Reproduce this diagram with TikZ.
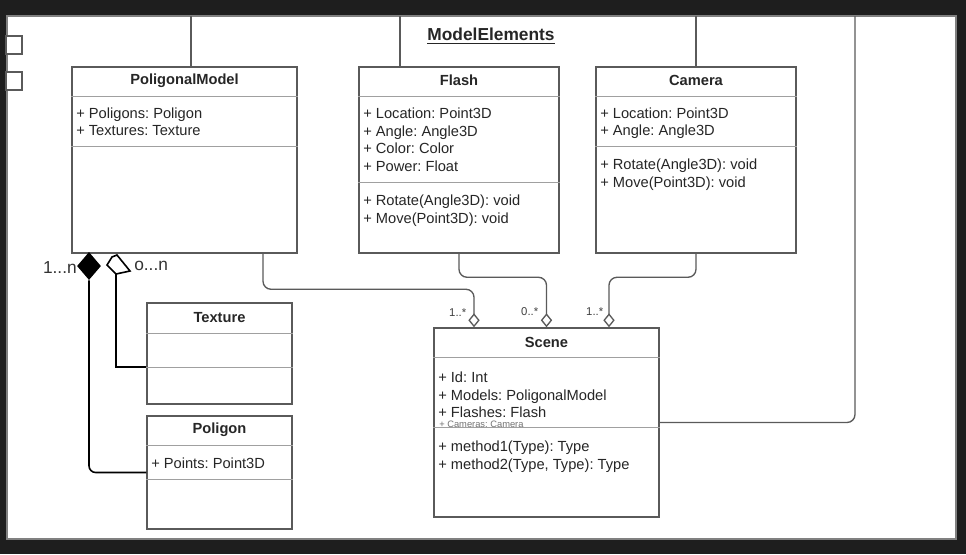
\documentclass[tikz,border=0pt]{standalone}
\usepackage{fontspec}
\setmainfont{Liberation Sans}
\frenchspacing
\usetikzlibrary{positioning,fit,calc,arrows.meta,shapes.geometric}
\definecolor{scrbg}{HTML}{1E1E1E}
\definecolor{boxline}{HTML}{5A5A5A}
\definecolor{divgray}{HTML}{A0A0A0}
\begin{document}
\begin{tikzpicture}[x=0.75pt, y=-0.75pt, >=latex,
    cls/.style={draw=boxline, line width=1.1pt, inner sep=0pt, fill=white},
    hdr/.style={font=\fontsize{11}{13}\selectfont\bfseries, text=black!85, inner sep=0pt},
    attr/.style={font=\fontsize{11}{13.2}\selectfont, text=black!85, align=left, inner sep=0pt, anchor=north west},
    divline/.style={draw=divgray, line width=0.9pt},
    agg/.style={draw=boxline, line width=1pt, rounded corners=6pt, -{Diamond[open,length=10.5pt,width=8.5pt]}},
    mult/.style={font=\fontsize{8.5}{9}\selectfont, text=black!75, inner sep=0pt, anchor=east},
    hand/.style={draw=black, line width=1.2pt},
    handtxt/.style={font=\fontsize{13}{14}\selectfont, text=black!80, inner sep=0pt}]
    \useasboundingbox (0,0) rectangle (966,554);
    \fill[scrbg] (0,0) rectangle (966,554);
    \draw[draw=gray, fill=white, line width=0.8pt] (7,16) rectangle (956,539);
    \draw[boxline, line width=1.4pt, fill=white] (6,36) rectangle (22,54);
    \draw[boxline, line width=1.4pt, fill=white] (6,72) rectangle (22,90);

    % titulo del paquete
    \node[font=\fontsize{13}{15}\selectfont\bfseries, text=black!85, inner sep=0pt] (ttl) at (491,36) {\underline{ModelElements}};

    % clases
    \node[cls, fit={(72,67) (297,253)}] (PM) {};
    \node[cls, fit={(359,67) (559,253)}] (FL) {};
    \node[cls, fit={(596,67) (796,253)}] (CA) {};
    \node[cls, fit={(147,303) (292,404)}] (TX) {};
    \node[cls, fit={(147,416) (292,529)}] (PG) {};
    \node[cls, fit={(434,328) (659,517)}] (SC) {};

    \draw[divline] ($(PM.north west)+(0,30)$) -- ($(PM.north east)+(0,30)$);
    \draw[divline] ($(PM.north west)+(0,80)$) -- ($(PM.north east)+(0,80)$);
    \draw[divline] ($(FL.north west)+(0,30)$) -- ($(FL.north east)+(0,30)$);
    \draw[divline] ($(FL.north west)+(0,116)$) -- ($(FL.north east)+(0,116)$);
    \draw[divline] ($(CA.north west)+(0,30)$) -- ($(CA.north east)+(0,30)$);
    \draw[divline] ($(CA.north west)+(0,80)$) -- ($(CA.north east)+(0,80)$);
    \draw[divline] ($(TX.north west)+(0,31)$) -- ($(TX.north east)+(0,31)$);
    \draw[divline] ($(TX.north west)+(0,65)$) -- ($(TX.north east)+(0,65)$);
    \draw[divline] ($(PG.north west)+(0,30)$) -- ($(PG.north east)+(0,30)$);
    \draw[divline] ($(PG.north west)+(0,64)$) -- ($(PG.north east)+(0,64)$);
    \draw[divline] ($(SC.north west)+(0,30)$) -- ($(SC.north east)+(0,30)$);
    \draw[divline] ($(SC.north west)+(0,100)$) -- ($(SC.north east)+(0,100)$);

    \node[hdr] (pmH) at (184.5,81) {PoligonalModel};
    \node[attr] (pmA) at (76,107.5) {+ Poligons: Poligon\\+ Textures: Texture};
    \node[hdr] (flH) at (459,80) {Flash};
    \node[attr] (flA) at (363,107.5) {+ Location: Point3D\\+ Angle: Angle3D\\+ Color: Color\\+ Power: Float};
    \node[attr] (flM) at (363,194.5) {+ Rotate(Angle3D): void\\+ Move(Point3D): void};
    \node[hdr] (caH) at (696,80) {Camera};
    \node[attr] (caA) at (600,107.5) {+ Location: Point3D\\+ Angle: Angle3D};
    \node[attr] (caM) at (600,158.5) {+ Rotate(Angle3D): void\\+ Move(Point3D): void};
    \node[hdr] (txH) at (219.5,318) {Texture};
    \node[hdr] (pgH) at (219.5,430) {Poligon};
    \node[attr] (pgA) at (151,457.5) {+ Points: Point3D};
    \node[hdr] (scH) at (546.5,342) {Scene};
    \node[attr] (scA) at (438,371.5) {+ Id: Int\\+ Models: PoligonalModel\\+ Flashes: Flash};
    \node[font=\fontsize{7}{8}\selectfont, text=black!55, inner sep=0pt, anchor=west] (scC) at (439,424) {+ Cameras: Camera};
    \node[attr] (scM) at (438,440.5) {+ method1(Type): Type\\+ method2(Type, Type): Type};

    % lineas hacia el borde superior
    \coordinate (t1) at (191,16);
    \coordinate (t2) at (400,16);
    \coordinate (t3) at (696,16);
    \coordinate (t4) at (855,16);
    \draw[draw=boxline, line width=1pt] (t1) -- ($(PM.north)+(6.5,0)$);
    \draw[draw=boxline, line width=1pt] (t2) -- ($(FL.north)+(-59,0)$);
    \draw[draw=boxline, line width=1pt] (t3) -- (CA.north);
    \draw[draw=boxline, line width=1pt, rounded corners=6pt] (t4) |- (SC.east);

    % agregaciones hacia Scene
    \draw[agg] ($(PM.south)+(78.5,0)$) |- ($(SC.north)+(-72.5,-38)$) -- ($(SC.north)+(-72.5,0)$);
    \draw[agg] (FL.south) |- ($(SC.north)+(0,-50)$) -- (SC.north);
    \draw[agg] (CA.south) |- ($(SC.north)+(62.5,-50)$) -- ($(SC.north)+(62.5,0)$);
    \node[mult] (m1) at ($(SC.north)+(-80,-15)$) {1..*};
    \node[mult] (m2) at ($(SC.north)+(-8,-16)$) {0..*};
    \node[mult] (m3) at ($(SC.north)+(57,-16)$) {1..*};

    % trazos a mano
    \node[diamond, fill=black, inner sep=0pt, minimum width=18pt, minimum height=21pt] (FD) at (89,266) {};
    \draw[hand, fill=white] (112,257) -- (117,255) -- (130,271) -- (116,274) -- (107,265) -- cycle;
    \coordinate (hb) at (116,274);
    \draw[hand, rounded corners=5pt] (FD.south) |- (PG.west);
    \draw[hand] (hb) |- ($(TX.west)+(0,13.5)$);
    \node[handtxt, anchor=east] (nl) at (77,268) {1...n};
    \node[handtxt, anchor=west] (nr) at (134,266) {o...n};
\end{tikzpicture}
\end{document}
